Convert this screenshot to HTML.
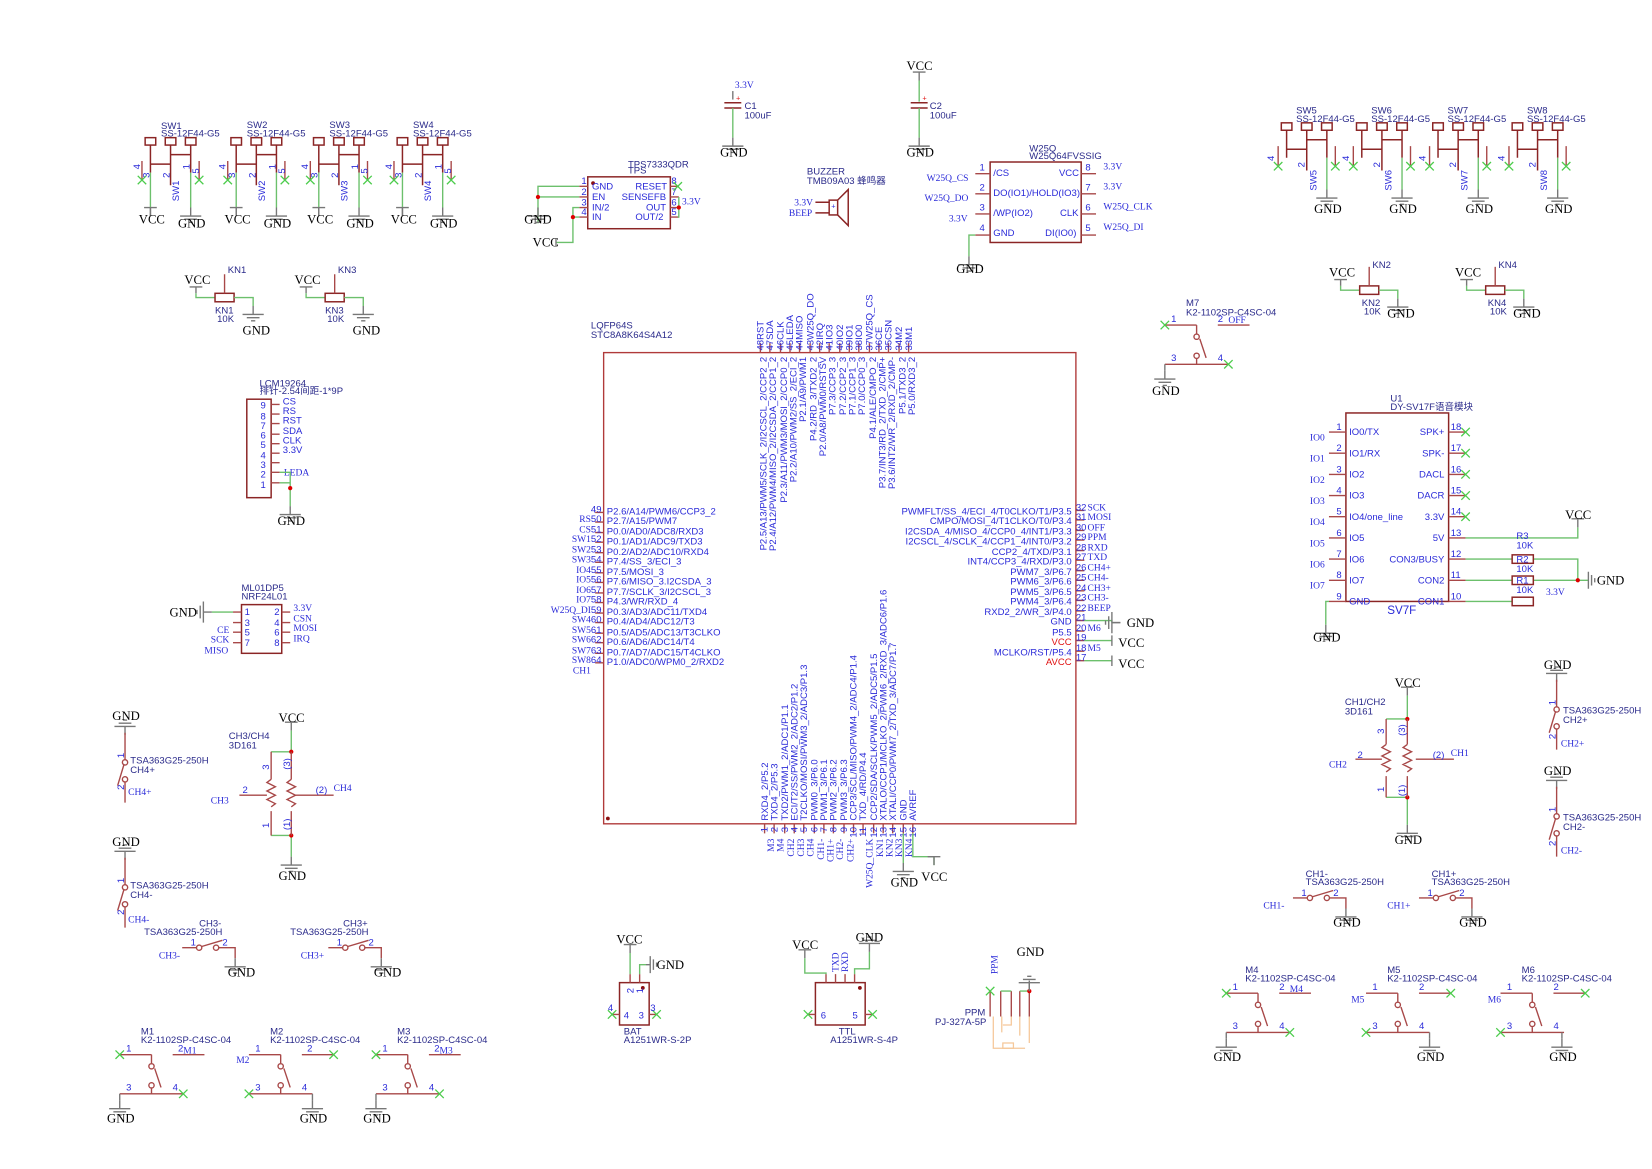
<!DOCTYPE html>
<html><head><meta charset="utf-8"><style>
html,body{margin:0;padding:0;background:#fff}
svg{display:block}
.r{stroke:#a84848;fill:none;stroke-width:1.3}
.k{stroke:#8b2525;fill:none;stroke-width:1.4}
.w{stroke:#6cc06c;fill:none;stroke-width:1.3}
.g{stroke:#777;fill:none;stroke-width:1.3}
.x{stroke:#4ccc4c;fill:none;stroke-width:1.2}
.o{stroke:#f5c89a;fill:none;stroke-width:1.2}
text{font-family:"Liberation Sans","Noto Sans CJK SC",sans-serif;font-size:9px;fill:#2a2ad8}
.t{fill:#2a2a8a}
.s{font-family:"Liberation Serif","Noto Serif CJK SC",serif;font-size:12px;fill:#000}
.q{font-family:"Liberation Serif",serif;font-size:9px;fill:#2a2ad8}
.red{fill:#e01010}
</style></head><body>
<svg width="1652" height="1169" viewBox="0 0 1560 1104" xmlns="http://www.w3.org/2000/svg">
<defs>
<g id="gnd"><path class="g" d="M0 0v8M-10 8h20M-6 11h12M-2 14h4"/></g>
<g id="gndu"><path class="g" d="M0 0v-8M-10 -8h20M-6 -11h12M-2 -14h4"/></g>
<g id="vcc"><path class="g" d="M0 0v-8M-6 -8h12"/></g>
<g id="xx"><path class="x" d="M-4 -4l8 8M-4 4l8 -8"/></g>
<g id="swt">
<rect class="k" x="0" y="0" width="10" height="7"/><rect class="k" x="19" y="0" width="10" height="7"/><rect class="k" x="38" y="0" width="10" height="7"/>
<path class="k" d="M5 7v26M24 7v38M43 7v26M5 25h19M24 16h19"/>
<path class="r" d="M-3 22v18M51 22v18"/>
</g>
<g id="msw">
<path class="r" d="M0 0h30M30 0v8M50 0h30M30 32v5M0 37h60"/>
<circle class="r" cx="30" cy="11" r="2.5"/><circle class="r" cx="30" cy="29" r="2.5"/>
<path class="r" d="M33 13l6 18"/>
</g>
<g id="tsa">
<path class="r" d="M0 0v26M0 46v20"/><circle class="r" cx="0" cy="28" r="2.5"/><circle class="r" cx="0" cy="44" r="2.5"/>
<path class="r" d="M-1 30l-6 20"/>
</g>
<g id="tsah">
<path class="r" d="M0 0h14M34 0h16v10"/><circle class="r" cx="16" cy="0" r="2.5"/><circle class="r" cx="32" cy="0" r="2.5"/>
<path class="r" d="M18 -1l20 -6"/>
</g>
</defs>

<!-- ===== SW1-SW4 ===== -->
<g transform="translate(137,130)">
<use href="#swt"/><text class="t" x="15" y="-8">SW1</text><text class="t" x="15" y="0" dy="-1">SS-12F44-G5</text>
</g>
<g transform="translate(218,130)"><use href="#swt"/><text class="t" x="15" y="-9">SW2</text><text class="t" x="15" y="-1">SS-12F44-G5</text></g>
<g transform="translate(296,130)"><use href="#swt"/><text class="t" x="15" y="-9">SW3</text><text class="t" x="15" y="-1">SS-12F44-G5</text></g>
<g transform="translate(375,130)"><use href="#swt"/><text class="t" x="15" y="-9">SW4</text><text class="t" x="15" y="-1">SS-12F44-G5</text></g>
<g>
<path class="w" d="M142 163v33M180 163v33"/><use href="#vcc" x="142" y="204"/><path class="g" d="M142 196v8"/>
<use href="#gnd" x="180" y="196"/><use href="#xx" x="134" y="170"/><use href="#xx" x="188" y="170"/>
<text class="s" x="131" y="211">VCC</text><text class="s" x="168" y="215">GND</text>
<text x="132" y="160" transform="rotate(-90 132 160)">4</text><text x="141" y="168" transform="rotate(-90 141 168)">3</text>
<text x="160" y="168" transform="rotate(-90 160 168)">2</text><text x="179" y="160" transform="rotate(-90 179 160)">1</text>
<text x="188" y="164" transform="rotate(-90 188 164)">5</text><text x="169" y="190" transform="rotate(-90 169 190)">SW1</text>
</g>
<g transform="translate(81,0)"><path class="w" d="M142 163v33M180 163v33"/><use href="#vcc" x="142" y="204"/><path class="g" d="M142 196v8"/><use href="#gnd" x="180" y="196"/><use href="#xx" x="134" y="170"/><use href="#xx" x="188" y="170"/><text class="s" x="131" y="211">VCC</text><text class="s" x="168" y="215">GND</text><text x="132" y="160" transform="rotate(-90 132 160)">4</text><text x="141" y="168" transform="rotate(-90 141 168)">3</text><text x="160" y="168" transform="rotate(-90 160 168)">2</text><text x="179" y="160" transform="rotate(-90 179 160)">1</text><text x="188" y="164" transform="rotate(-90 188 164)">5</text><text x="169" y="190" transform="rotate(-90 169 190)">SW2</text></g>
<g transform="translate(159,0)"><path class="w" d="M142 163v33M180 163v33"/><use href="#vcc" x="142" y="204"/><path class="g" d="M142 196v8"/><use href="#gnd" x="180" y="196"/><use href="#xx" x="134" y="170"/><use href="#xx" x="188" y="170"/><text class="s" x="131" y="211">VCC</text><text class="s" x="168" y="215">GND</text><text x="132" y="160" transform="rotate(-90 132 160)">4</text><text x="141" y="168" transform="rotate(-90 141 168)">3</text><text x="160" y="168" transform="rotate(-90 160 168)">2</text><text x="179" y="160" transform="rotate(-90 179 160)">1</text><text x="188" y="164" transform="rotate(-90 188 164)">5</text><text x="169" y="190" transform="rotate(-90 169 190)">SW3</text></g>
<g transform="translate(238,0)"><path class="w" d="M142 163v33M180 163v33"/><use href="#vcc" x="142" y="204"/><path class="g" d="M142 196v8"/><use href="#gnd" x="180" y="196"/><use href="#xx" x="134" y="170"/><use href="#xx" x="188" y="170"/><text class="s" x="131" y="211">VCC</text><text class="s" x="168" y="215">GND</text><text x="132" y="160" transform="rotate(-90 132 160)">4</text><text x="141" y="168" transform="rotate(-90 141 168)">3</text><text x="160" y="168" transform="rotate(-90 160 168)">2</text><text x="179" y="160" transform="rotate(-90 179 160)">1</text><text x="188" y="164" transform="rotate(-90 188 164)">5</text><text x="169" y="190" transform="rotate(-90 169 190)">SW4</text></g>

<!-- ===== SW5-SW8 ===== -->
<g transform="translate(1210,116)"><use href="#swt"/><text class="t" x="14" y="-9">SW5</text><text class="t" x="14" y="-1">SS-12F44-G5</text>
<path class="w" d="M43 33v30"/><use href="#gnd" x="43" y="63"/><use href="#xx" x="-3" y="41"/><use href="#xx" x="51" y="41"/><text class="s" x="31" y="85">GND</text><text x="-7" y="36" transform="rotate(-90 -7 36)">4</text><text x="33" y="64" transform="rotate(-90 33 64)">SW5</text><text x="22" y="42" transform="rotate(-90 22 42)">2</text></g>
<g transform="translate(1281,116)"><use href="#swt"/><text class="t" x="14" y="-9">SW6</text><text class="t" x="14" y="-1">SS-12F44-G5</text>
<path class="w" d="M43 33v30"/><use href="#gnd" x="43" y="63"/><use href="#xx" x="-3" y="41"/><use href="#xx" x="51" y="41"/><text class="s" x="31" y="85">GND</text><text x="-7" y="36" transform="rotate(-90 -7 36)">4</text><text x="33" y="64" transform="rotate(-90 33 64)">SW6</text><text x="22" y="42" transform="rotate(-90 22 42)">2</text></g>
<g transform="translate(1353,116)"><use href="#swt"/><text class="t" x="14" y="-9">SW7</text><text class="t" x="14" y="-1">SS-12F44-G5</text>
<path class="w" d="M43 33v30"/><use href="#gnd" x="43" y="63"/><use href="#xx" x="-3" y="41"/><use href="#xx" x="51" y="41"/><text class="s" x="31" y="85">GND</text><text x="-7" y="36" transform="rotate(-90 -7 36)">4</text><text x="33" y="64" transform="rotate(-90 33 64)">SW7</text><text x="22" y="42" transform="rotate(-90 22 42)">2</text></g>
<g transform="translate(1428,116)"><use href="#swt"/><text class="t" x="14" y="-9">SW8</text><text class="t" x="14" y="-1">SS-12F44-G5</text>
<path class="w" d="M43 33v30"/><use href="#gnd" x="43" y="63"/><use href="#xx" x="-3" y="41"/><use href="#xx" x="51" y="41"/><text class="s" x="31" y="85">GND</text><text x="-7" y="36" transform="rotate(-90 -7 36)">4</text><text x="33" y="64" transform="rotate(-90 33 64)">SW8</text><text x="22" y="42" transform="rotate(-90 22 42)">2</text></g>

<!-- ===== KN pots ===== -->
<g transform="translate(185,277)">
<path class="g" d="M0 0v-6M-6 -6h12"/><path class="w" d="M0 0v4h18"/><rect class="k" x="18" y="0" width="18" height="8"/><path class="w" d="M36 4h18v8"/><path class="r" d="M27 -18v18"/>
<use href="#gnd" x="54" y="12"/><text class="s" x="-11" y="-9">VCC</text><text class="s" x="44" y="39">GND</text>
<text class="t" x="30" y="-19">KN1</text><text class="t" x="18" y="19">KN1</text><text class="t" x="20" y="27">10K</text></g>
<g transform="translate(289,277)">
<path class="g" d="M0 0v-6M-6 -6h12"/><path class="w" d="M0 0v4h18"/><rect class="k" x="18" y="0" width="18" height="8"/><path class="w" d="M36 4h18v8"/><path class="r" d="M27 -18v18"/>
<use href="#gnd" x="54" y="12"/><text class="s" x="-11" y="-9">VCC</text><text class="s" x="44" y="39">GND</text>
<text class="t" x="30" y="-19">KN3</text><text class="t" x="18" y="19">KN3</text><text class="t" x="20" y="27">10K</text></g>
<g transform="translate(1266,270)">
<path class="g" d="M0 0v-6M-6 -6h12"/><path class="w" d="M0 0v4h18"/><rect class="k" x="18" y="0" width="18" height="8"/><path class="w" d="M36 4h18v8"/><path class="r" d="M27 -18v18"/>
<use href="#gnd" x="54" y="12"/><text class="s" x="-11" y="-9">VCC</text><text class="s" x="44" y="30">GND</text>
<text class="t" x="30" y="-17">KN2</text><text class="t" x="20" y="19">KN2</text><text class="t" x="22" y="27">10K</text></g>
<g transform="translate(1385,270)">
<path class="g" d="M0 0v-6M-6 -6h12"/><path class="w" d="M0 0v4h18"/><rect class="k" x="18" y="0" width="18" height="8"/><path class="w" d="M36 4h18v8"/><path class="r" d="M27 -18v18"/>
<use href="#gnd" x="54" y="12"/><text class="s" x="-11" y="-9">VCC</text><text class="s" x="44" y="30">GND</text>
<text class="t" x="30" y="-17">KN4</text><text class="t" x="20" y="19">KN4</text><text class="t" x="22" y="27">10K</text></g>

<!-- ===== C1, C2 ===== -->
<text class="q" x="694" y="83">3.3V</text>
<path class="g" d="M692 86v8"/><path class="k" d="M684 97h16M684 102h16"/><path class="w" d="M692 102v28"/><use href="#gnd" x="692" y="130"/><text class="red" x="695" y="95" style="font-size:7px">+</text>
<text class="t" x="703" y="103">C1</text><text class="t" x="703" y="112">100uF</text><text class="s" x="680" y="148">GND</text>
<text class="s" x="856" y="66">VCC</text><use href="#vcc" x="868" y="76"/><path class="w" d="M868 76v20"/><path class="k" d="M860 97h16M860 102h16"/><path class="w" d="M868 102v28"/><use href="#gnd" x="868" y="130"/><text class="red" x="871" y="95" style="font-size:7px">+</text>
<text class="t" x="878" y="103">C2</text><text class="t" x="878" y="112">100uF</text><text class="s" x="856" y="148">GND</text>

<!-- ===== TPS ===== -->
<rect class="k" x="555" y="167" width="78" height="49"/><circle cx="560" cy="173" r="1.8" fill="#8b1010"/>
<text class="t" x="593" y="158">TPS7333QDR</text><text class="t" x="593" y="164">TPS</text>
<path class="r" d="M547 176h8M547 186h8M547 196h8M547 205h8M633 176h8M633 186h8M633 196h8M633 205h8"/>
<text x="549" y="174">1</text><text x="549" y="184">2</text><text x="549" y="194">3</text><text x="549" y="203">4</text>
<text x="634" y="174">8</text><text x="634" y="184">7</text><text x="634" y="194">6</text><text x="634" y="203">5</text>
<text x="559" y="179">GND</text><text x="559" y="189">EN</text><text x="559" y="199">IN/2</text><text x="559" y="208">IN</text>
<text x="600" y="179">RESET</text><text x="587" y="189">SENSEFB</text><text x="610" y="199">OUT</text><text x="600" y="208">OUT/2</text>
<path class="w" d="M547 176h-39v35M547 186h-39M547 196h-6v9M547 205h-6v24h-16"/><use href="#gnd" x="508" y="196"/><circle cx="508" cy="186" r="2" fill="#d00"/><circle cx="541" cy="205" r="2" fill="#d00"/>
<text class="s" x="495" y="211">GND</text><text class="s" x="503" y="233">VCC</text><path class="g" d="M525 225v8"/>
<path class="w" d="M641 186v19h-1"/><circle cx="641" cy="196" r="2" fill="#d00"/><text class="q" x="644" y="193">3.3V</text><use href="#xx" x="640" y="176"/>

<!-- ===== Buzzer ===== -->
<text class="t" x="762" y="165">BUZZER</text><text class="t" x="762" y="174">TMB09A03 蜂鸣器</text>
<rect class="k" x="783" y="189" width="8" height="14"/><path class="k" d="M791 189l10 -10v34l-10 -10M770 191h13M770 201h13"/>
<text class="q" x="750" y="194">3.3V</text><text class="q" x="745" y="204">BEEP</text><text style="font-size:7px" x="785" y="197">+</text>

<!-- ===== W25Q ===== -->
<rect class="k" x="935" y="153" width="86" height="76"/>
<text class="t" x="972" y="143">W25Q</text><text class="t" x="972" y="150">W25Q64FVSSIG</text>
<path class="r" d="M921 164h14M921 183h14M921 202h14M921 222h14M1021 164h14M1021 183h14M1021 202h14M1021 222h14"/>
<text x="925" y="161">1</text><text x="925" y="180">2</text><text x="925" y="199">3</text><text x="925" y="218">4</text>
<text x="1025" y="161">8</text><text x="1025" y="180">7</text><text x="1025" y="199">6</text><text x="1025" y="218">5</text>
<text x="938" y="166">/CS</text><text x="938" y="185">DO(IO1)/HOLD(IO3)</text><text x="938" y="204">/WP(IO2)</text><text x="938" y="223">GND</text>
<text x="1000" y="166">VCC</text><text x="1001" y="204">CLK</text><text x="987" y="223">DI(IO0)</text>
<text class="q" x="875" y="171">W25Q_CS</text><text class="q" x="873" y="190">W25Q_DO</text><text class="q" x="896" y="209">3.3V</text>
<text class="q" x="1042" y="160">3.3V</text><text class="q" x="1042" y="179">3.3V</text><text class="q" x="1042" y="198">W25Q_CLK</text><text class="q" x="1042" y="217">W25Q_DI</text>
<path class="w" d="M921 222h-6v20"/><use href="#gnd" x="915" y="242"/><text class="s" x="903" y="258">GND</text>

<!-- ===== LCM ===== -->
<text class="t" x="245" y="365">LCM19264</text><text class="t" x="245" y="372">排针-2.54间距-1*9P</text>
<rect class="k" x="233" y="377" width="23" height="93"/>
<path class="r" d="M256 382h8M256 391h8M256 400h8M256 410h8M256 419h8M256 428h8M256 437h8M256 446h8M256 456h8"/>
<text x="246" y="386">9</text><text x="246" y="396">8</text><text x="246" y="405">7</text><text x="246" y="414">6</text><text x="246" y="423">5</text><text x="246" y="433">4</text><text x="246" y="442">3</text><text x="246" y="451">2</text><text x="246" y="461">1</text>
<text x="267" y="382">CS</text><text x="267" y="391">RS</text><text x="267" y="400">RST</text><text x="267" y="410">SDA</text><text x="267" y="419">CLK</text><text x="267" y="428">3.3V</text><text class="q" x="268" y="449">LEDA</text>
<path class="w" d="M264 446h10v32M264 456h10"/><circle cx="274" cy="461" r="2" fill="#d00"/><use href="#gnd" x="274" y="478"/><text class="s" x="262" y="496">GND</text>

<!-- ===== NRF ===== -->
<text class="t" x="228" y="558">ML01DP5</text><text class="t" x="228" y="566">NRF24L01</text>
<rect class="k" x="228" y="571" width="38" height="46"/>
<text x="231" y="581">1</text><text x="231" y="591">3</text><text x="231" y="600">5</text><text x="231" y="610">7</text>
<text x="259" y="581">2</text><text x="259" y="591">4</text><text x="259" y="600">6</text><text x="259" y="610">8</text>
<path class="r" d="M220 578h8M220 588h8M220 597h8M220 607h8M266 578h8M266 588h8M266 597h8M266 607h8"/>
<path class="w" d="M220 578h-20"/><use href="#gndu" x="200" y="578" transform="rotate(-90 200 578)"/>
<text class="s" x="160" y="582">GND</text>
<text class="q" x="205" y="598">CE</text><text class="q" x="199" y="607">SCK</text><text class="q" x="193" y="617">MISO</text>
<text class="q" x="277" y="577">3.3V</text><text class="q" x="277" y="587">CSN</text><text class="q" x="277" y="596">MOSI</text><text class="q" x="277" y="606">IRQ</text>

<!-- ===== MCU ===== -->
<text class="t" x="558" y="310">LQFP64S</text><text class="t" x="558" y="319">STC8A8K64S4A12</text>
<rect x="570" y="333" width="446" height="445" style="fill:none;stroke:#b03a3a;stroke-width:1.3"/>
<circle cx="574" cy="773" r="1.8" fill="#8b1010"/>
<g>
<path class="r" d="M562 484h8M562 493h8M562 503h8M562 512h8M562 522h8M562 531h8M562 541h8M562 550h8M562 560h8M562 569h8M562 579h8M562 588h8M562 598h8M562 607h8M562 617h8M562 626h8"/>
<text x="573" y="486">P2.6/A14/PWM6/CCP3_2</text><text x="573" y="495">P2.7/A15/PWM7</text><text x="573" y="505">P0.0/AD0/ADC8/RXD3</text><text x="573" y="514">P0.1/AD1/ADC9/TXD3</text><text x="573" y="524">P0.2/AD2/ADC10/RXD4</text><text x="573" y="533">P7.4/SS_3/ECI_3</text><text x="573" y="543">P7.5/MOSI_3</text><text x="573" y="552">P7.6/MISO_3.I2CSDA_3</text><text x="573" y="562">P7.7/SCLK_3/I2CSCL_3</text><text x="573" y="571">P4.3/WR/RXD_4</text><text x="573" y="581">P0.3/AD3/ADC11/TXD4</text><text x="573" y="590">P0.4/AD4/ADC12/T3</text><text x="573" y="600">P0.5/AD5/ADC13/T3CLKO</text><text x="573" y="609">P0.6/AD6/ADC14/T4</text><text x="573" y="619">P0.7/AD7/ADC15/T4CLKO</text><text x="573" y="628">P1.0/ADC0/WPM0_2/RXD2</text>
<g text-anchor="end"><text x="568" y="484">49</text><text x="568" y="493">50</text><text x="568" y="503">51</text><text x="568" y="512">52</text><text x="568" y="522">53</text><text x="568" y="531">54</text><text x="568" y="541">55</text><text x="568" y="550">56</text><text x="568" y="560">57</text><text x="568" y="569">58</text><text x="568" y="579">59</text><text x="568" y="588">60</text><text x="568" y="598">61</text><text x="568" y="607">62</text><text x="568" y="617">63</text><text x="568" y="626">64</text>
<text class="q" x="558" y="493">RS</text><text class="q" x="558" y="503">CS</text><text class="q" x="558" y="512">SW1</text><text class="q" x="558" y="522">SW2</text><text class="q" x="558" y="531">SW3</text><text class="q" x="558" y="541">IO4</text><text class="q" x="558" y="550">IO5</text><text class="q" x="558" y="560">IO6</text><text class="q" x="558" y="569">IO7</text><text class="q" x="558" y="579">W25Q_DI</text><text class="q" x="558" y="588">SW4</text><text class="q" x="558" y="598">SW5</text><text class="q" x="558" y="607">SW6</text><text class="q" x="558" y="617">SW7</text><text class="q" x="558" y="626">SW8</text><text class="q" x="558" y="636">CH1</text></g>
</g>
<path class="r" d="M1016 482h8M1016 491h8M1016 501h8M1016 510h8M1016 520h8M1016 529h8M1016 539h8M1016 548h8M1016 558h8M1016 567h8M1016 577h8M1016 586h8M1016 596h8M1016 605h8M1016 615h8M1016 624h8"/>
<g text-anchor="end">
<text x="1012" y="486">PWMFLT/SS_4/ECI_4/T0CLKO/T1/P3.5</text><text x="1012" y="495">CMPO/MOSI_4/T1CLKO/T0/P3.4</text><text x="1012" y="505">I2CSDA_4/MISO_4/CCP0_4/INT1/P3.3</text><text x="1012" y="514">I2CSCL_4/SCLK_4/CCP1_4/INT0/P3.2</text><text x="1012" y="524">CCP2_4/TXD/P3.1</text><text x="1012" y="533">INT4/CCP3_4/RXD/P3.0</text><text x="1012" y="543">PWM7_3/P6.7</text><text x="1012" y="552">PWM6_3/P6.6</text><text x="1012" y="562">PWM5_3/P6.5</text><text x="1012" y="571">PWM4_3/P6.4</text><text x="1012" y="581">RXD2_2/WR_3/P4.0</text><text x="1012" y="590">GND</text><text x="1012" y="600">P5.5</text><text class="red" x="1012" y="609">VCC</text><text x="1012" y="619">MCLKO/RST/P5.4</text><text class="red" x="1012" y="628">AVCC</text>
</g>
<text x="1016" y="482">32</text><text x="1016" y="491">31</text><text x="1016" y="501">30</text><text x="1016" y="510">29</text><text x="1016" y="520">28</text><text x="1016" y="529">27</text><text x="1016" y="539">26</text><text x="1016" y="548">25</text><text x="1016" y="558">24</text><text x="1016" y="567">23</text><text x="1016" y="577">22</text><text x="1016" y="586">21</text><text x="1016" y="596">20</text><text x="1016" y="605">19</text><text x="1016" y="615">18</text><text x="1016" y="624">17</text>
<text class="q" x="1027" y="482">SCK</text><text class="q" x="1027" y="491">MOSI</text><text class="q" x="1027" y="501">OFF</text><text class="q" x="1027" y="510">PPM</text><text class="q" x="1027" y="520">RXD</text><text class="q" x="1027" y="529">TXD</text><text class="q" x="1027" y="539">CH4+</text><text class="q" x="1027" y="548">CH4-</text><text class="q" x="1027" y="558">CH3+</text><text class="q" x="1027" y="567">CH3-</text><text class="q" x="1027" y="577">BEEP</text><text class="q" x="1027" y="596">M6</text><text class="q" x="1027" y="615">M5</text>
<path class="w" d="M1024 586h26v2M1024 605h26M1024 624h26"/>
<use href="#gndu" x="1058" y="588" transform="rotate(-90 1058 588)"/><path class="g" d="M1050 588h8"/>
<text class="s" x="1064" y="592">GND</text><path class="g" d="M1050 600v10M1050 619v10"/><text class="s" x="1056" y="611">VCC</text><text class="s" x="1056" y="631">VCC</text>
<path class="r" d="M718 324v9M727 324v9M737 324v9M746 324v9M755 324v9M765 324v9M774 324v9M783 324v9M793 324v9M802 324v9M811 324v9M821 324v9M830 324v9M839 324v9M849 324v9M858 324v9"/>
<g text-anchor="start">
<text x="721" y="331" transform="rotate(-90 721 331)">48RST</text><text x="730" y="331" transform="rotate(-90 730 331)">47SDA</text><text x="740" y="331" transform="rotate(-90 740 331)">46CLK</text><text x="749" y="331" transform="rotate(-90 749 331)">45LEDA</text><text x="758" y="331" transform="rotate(-90 758 331)">44MISO</text><text x="768" y="331" transform="rotate(-90 768 331)">43W25Q_DO</text><text x="777" y="331" transform="rotate(-90 777 331)">42IRQ</text><text x="786" y="331" transform="rotate(-90 786 331)">41IO3</text><text x="796" y="331" transform="rotate(-90 796 331)">40IO2</text><text x="805" y="331" transform="rotate(-90 805 331)">39IO1</text><text x="814" y="331" transform="rotate(-90 814 331)">38IO0</text><text x="824" y="331" transform="rotate(-90 824 331)">37W25Q_CS</text><text x="833" y="331" transform="rotate(-90 833 331)">36CE</text><text x="842" y="331" transform="rotate(-90 842 331)">35CSN</text><text x="852" y="331" transform="rotate(-90 852 331)">34M2</text><text x="861" y="331" transform="rotate(-90 861 331)">33M1</text>
</g>
<g text-anchor="end">
<text x="724" y="337" transform="rotate(-90 724 337)">P2.5/A13/PWM5/SCLK_2/I2CSCL_2/CCP2_2</text><text x="733" y="337" transform="rotate(-90 733 337)">P2.4/A12/PWM4/MISO_2/I2CSDA_2/CCP1_2</text><text x="743" y="337" transform="rotate(-90 743 337)">P2.3/A11/PWM3/MOSI_2/CCP0_2</text><text x="752" y="337" transform="rotate(-90 752 337)">P2.2/A10/PWM2/SS_2/ECI_2</text><text x="761" y="337" transform="rotate(-90 761 337)">P2.1/A9/PWM1</text><text x="771" y="337" transform="rotate(-90 771 337)">P4.2/RD_3/TXD2_2</text><text x="780" y="337" transform="rotate(-90 780 337)">P2.0/A8/PWM0/RSTSV</text><text x="789" y="337" transform="rotate(-90 789 337)">P7.3/CCP3_3</text><text x="799" y="337" transform="rotate(-90 799 337)">P7.2/CCP2_3</text><text x="808" y="337" transform="rotate(-90 808 337)">P7.1/CCP1_3</text><text x="817" y="337" transform="rotate(-90 817 337)">P7.0/CCP0_3</text><text x="827" y="337" transform="rotate(-90 827 337)">P4.1/ALE/CMPO_2</text><text x="836" y="337" transform="rotate(-90 836 337)">P3.7/INT3/RD_2/TXD_2/CMP+</text><text x="845" y="337" transform="rotate(-90 845 337)">P3.6/INT2/WR_2/RXD_2/CMP-</text><text x="855" y="337" transform="rotate(-90 855 337)">P5.1/TXD3_2</text><text x="864" y="337" transform="rotate(-90 864 337)">P5.0/RXD3_2</text>
</g>
<path class="r" d="M722 778v9M731 778v9M741 778v9M750 778v9M759 778v9M769 778v9M778 778v9M787 778v9M797 778v9M806 778v9M815 778v9M825 778v9M834 778v9M843 778v9M853 778v9M862 778v9"/>
<g text-anchor="start">
<text x="725" y="775" transform="rotate(-90 725 775)">RXD4_2/P5.2</text><text x="734" y="775" transform="rotate(-90 734 775)">TXD4_2/P5.3</text><text x="744" y="775" transform="rotate(-90 744 775)">TXD2/PWM1_2/ADC1/P1.1</text><text x="753" y="775" transform="rotate(-90 753 775)">ECI/T2/SS/PWM2_2/ADC2/P1.2</text><text x="762" y="775" transform="rotate(-90 762 775)">T2CLKO/MOSI/PWM3_2/ADC3/P1.3</text><text x="772" y="775" transform="rotate(-90 772 775)">PWM0_3/P6.0</text><text x="781" y="775" transform="rotate(-90 781 775)">PWM1_3/P6.1</text><text x="790" y="775" transform="rotate(-90 790 775)">PWM2_3/P6.2</text><text x="800" y="775" transform="rotate(-90 800 775)">PWM3_3/P6.3</text><text x="809" y="775" transform="rotate(-90 809 775)">CCP3/SCL/MISO/PWM4_2/ADC4/P1.4</text><text x="818" y="775" transform="rotate(-90 818 775)">TXD_4/RD/P4.4</text><text x="828" y="775" transform="rotate(-90 828 775)">CCP2/SDA/SCLK/PWM5_2/ADC5/P1.5</text><text x="837" y="775" transform="rotate(-90 837 775)">XTALO/CCP1/MCLKO_2/PWM6_2/RXD_3/ADC6/P1.6</text><text x="846" y="775" transform="rotate(-90 846 775)">XTALI/CCP0/PWM7_2/TXD_3/ADC7/P1.7</text><text x="856" y="775" transform="rotate(-90 856 775)">GND</text><text x="865" y="775" transform="rotate(-90 865 775)">AVREF</text>
</g>
<g text-anchor="end">
<text x="725" y="781" transform="rotate(-90 725 781)">1</text><text x="734" y="781" transform="rotate(-90 734 781)">2</text><text x="744" y="781" transform="rotate(-90 744 781)">3</text><text x="753" y="781" transform="rotate(-90 753 781)">4</text><text x="762" y="781" transform="rotate(-90 762 781)">5</text><text x="772" y="781" transform="rotate(-90 772 781)">6</text><text x="781" y="781" transform="rotate(-90 781 781)">7</text><text x="790" y="781" transform="rotate(-90 790 781)">8</text><text x="800" y="781" transform="rotate(-90 800 781)">9</text><text x="809" y="781" transform="rotate(-90 809 781)">10</text><text x="818" y="781" transform="rotate(-90 818 781)">11</text><text x="828" y="781" transform="rotate(-90 828 781)">12</text><text x="837" y="781" transform="rotate(-90 837 781)">13</text><text x="846" y="781" transform="rotate(-90 846 781)">14</text><text x="856" y="781" transform="rotate(-90 856 781)">15</text><text x="865" y="781" transform="rotate(-90 865 781)">16</text>
<text class="q" x="731" y="792" transform="rotate(-90 731 792)">M3</text><text class="q" x="740" y="792" transform="rotate(-90 740 792)">M4</text><text class="q" x="750" y="792" transform="rotate(-90 750 792)">CH2</text><text class="q" x="759" y="792" transform="rotate(-90 759 792)">CH3</text><text class="q" x="768" y="792" transform="rotate(-90 768 792)">CH4</text><text class="q" x="778" y="792" transform="rotate(-90 778 792)">CH1-</text><text class="q" x="787" y="792" transform="rotate(-90 787 792)">CH1+</text><text class="q" x="796" y="792" transform="rotate(-90 796 792)">CH2-</text><text class="q" x="806" y="792" transform="rotate(-90 806 792)">CH2+</text><text class="q" x="824" y="792" transform="rotate(-90 824 792)">W25Q_CLK</text><text class="q" x="834" y="792" transform="rotate(-90 834 792)">KN1</text><text class="q" x="843" y="792" transform="rotate(-90 843 792)">KN2</text><text class="q" x="852" y="792" transform="rotate(-90 852 792)">KN3</text><text class="q" x="861" y="792" transform="rotate(-90 861 792)">KN4</text>
</g>
<path class="w" d="M853 787v28M862 787v22h20v8"/><use href="#gnd" x="853" y="815"/><text class="s" x="841" y="837">GND</text><use href="#vcc" x="882" y="817"/><text class="s" x="870" y="832">VCC</text>

<!-- ===== M7 ===== -->
<text class="t" x="1120" y="289">M7</text><text class="t" x="1120" y="298">K2-1102SP-C4SC-04</text>
<g transform="translate(1100,307)"><use href="#msw"/><use href="#xx" x="0" y="0"/><use href="#xx" x="60" y="37"/><text x="6" y="-3">1</text><text x="50" y="-3">2</text><text x="6" y="34">3</text><text x="50" y="34">4</text><text class="q" x="60" y="-2">OFF</text><path class="g" d="M0 37v6"/><use href="#gnd" x="0" y="43"/><text class="s" x="-12" y="66">GND</text></g>

<!-- ===== U1 ===== -->
<text class="t" x="1313" y="379">U1</text><text class="t" x="1313" y="387">DY-SV17F语音模块</text>
<rect class="k" x="1271" y="390" width="97" height="178"/>
<path class="r" d="M1255 408h16M1255 428h16M1255 448h16M1255 468h16M1255 488h16M1255 508h16M1255 528h16M1255 548h16M1255 568h16M1368 408h16M1368 428h16M1368 448h16M1368 468h16M1368 488h16M1368 508h16M1368 528h16M1368 548h16M1368 568h16"/>
<text x="1262" y="406">1</text><text x="1262" y="426">2</text><text x="1262" y="446">3</text><text x="1262" y="466">4</text><text x="1262" y="486">5</text><text x="1262" y="506">6</text><text x="1262" y="526">7</text><text x="1262" y="546">8</text><text x="1262" y="566">9</text>
<text x="1274" y="411">IO0/TX</text><text x="1274" y="431">IO1/RX</text><text x="1274" y="451">IO2</text><text x="1274" y="471">IO3</text><text x="1274" y="491">IO4/one_line</text><text x="1274" y="511">IO5</text><text x="1274" y="531">IO6</text><text x="1274" y="551">IO7</text><text x="1274" y="571">GND</text>
<g text-anchor="end"><text x="1364" y="411">SPK+</text><text x="1364" y="431">SPK-</text><text x="1364" y="451">DACL</text><text x="1364" y="471">DACR</text><text x="1364" y="491">3.3V</text><text x="1364" y="511">5V</text><text x="1364" y="531">CON3/BUSY</text><text x="1364" y="551">CON2</text><text x="1364" y="571">CON1</text></g>
<text x="1370" y="406">18</text><text x="1370" y="426">17</text><text x="1370" y="446">16</text><text x="1370" y="466">15</text><text x="1370" y="486">14</text><text x="1370" y="506">13</text><text x="1370" y="526">12</text><text x="1370" y="546">11</text><text x="1370" y="566">10</text>
<use href="#xx" x="1384" y="408"/><use href="#xx" x="1384" y="428"/><use href="#xx" x="1384" y="448"/><use href="#xx" x="1384" y="468"/><use href="#xx" x="1384" y="488"/>
<text class="q" x="1237" y="416">IO0</text><text class="q" x="1237" y="436">IO1</text><text class="q" x="1237" y="456">IO2</text><text class="q" x="1237" y="476">IO3</text><text class="q" x="1237" y="496">IO4</text><text class="q" x="1237" y="516">IO5</text><text class="q" x="1237" y="536">IO6</text><text class="q" x="1237" y="556">IO7</text>
<path class="w" d="M1384 508h106v-10M1384 528h44M1448 528h42v20M1384 548h44M1448 548h52M1384 568h44"/>
<rect class="k" x="1428" y="524" width="20" height="8"/><rect class="k" x="1428" y="544" width="20" height="8"/><rect class="k" x="1428" y="564" width="20" height="8"/>
<text x="1432" y="509">R3</text><text x="1432" y="518">10K</text><text x="1432" y="531">R2</text><text x="1432" y="540">10K</text><text x="1432" y="551">R1</text><text x="1432" y="560">10K</text>
<text class="q" x="1460" y="562">3.3V</text>
<circle cx="1490" cy="548" r="2" fill="#d00"/><path class="g" d="M1484 490h12M1490 490v8"/><text class="s" x="1478" y="490">VCC</text>
<path class="g" d="M1500 540v16M1503 543v10M1506 546v4"/><text class="s" x="1508" y="552">GND</text>
<text x="1310" y="580" style="font-size:11px">SV7F</text>
<path class="w" d="M1255 568h-3v22"/><use href="#gnd" x="1252" y="590"/><text class="s" x="1240" y="606">GND</text>

<!-- ===== CH1/CH2 pot (right) ===== -->
<text class="t" x="1270" y="666">CH1/CH2</text><text class="t" x="1270" y="675">3D161</text>
<path class="g" d="M1329 649v8M1323 649h12"/><text class="s" x="1317" y="649">VCC</text>
<path class="w" d="M1329 657v22M1309 679h20M1309 753h20M1329 753v26"/>
<circle cx="1329" cy="679" r="2" fill="#d00"/><circle cx="1329" cy="753" r="2" fill="#d00"/>
<path class="r" d="M1309 679v24M1329 679v24M1309 733v20M1329 733v20"/>
<path class="r" d="M1309 703l-4 3l8 4l-8 4l8 4l-8 4l8 4l-4 3M1329 703l-4 3l8 4l-8 4l8 4l-8 4l8 4l-4 3"/>
<path class="r" d="M1280 717h25M1337 717h36"/>
<text x="1282" y="716">2</text><text x="1353" y="716">(2)</text><text class="q" x="1370" y="714">CH1</text><text class="q" x="1255" y="725">CH2</text>
<text x="1307" y="693" transform="rotate(-90 1307 693)">3</text><text x="1327" y="695" transform="rotate(-90 1327 695)">(3)</text><text x="1307" y="748" transform="rotate(-90 1307 748)">1</text><text x="1327" y="752" transform="rotate(-90 1327 752)">(1)</text>
<use href="#gnd" x="1329" y="779"/><text class="s" x="1317" y="797">GND</text>

<!-- ===== CH3/CH4 pot (left) ===== -->
<text class="t" x="216" y="698">CH3/CH4</text><text class="t" x="216" y="707">3D161</text>
<path class="g" d="M275 682v8M269 682h12"/><text class="s" x="263" y="682">VCC</text>
<path class="w" d="M275 690v20M256 710h19M256 789h19M275 789v20"/>
<circle cx="275" cy="710" r="2" fill="#d00"/><circle cx="275" cy="789" r="2" fill="#d00"/>
<path class="r" d="M256 710v26M275 710v26M256 766v23M275 766v23"/>
<path class="r" d="M256 736l-4 3l8 4l-8 4l8 4l-8 4l8 4l-4 3M275 736l-4 3l8 4l-8 4l8 4l-8 4l8 4l-4 3"/>
<path class="r" d="M226 751h26M279 751h36"/>
<text x="229" y="749">2</text><text x="298" y="749">(2)</text><text class="q" x="315" y="747">CH4</text><text class="q" x="199" y="759">CH3</text>
<text x="254" y="727" transform="rotate(-90 254 727)">3</text><text x="274" y="727" transform="rotate(-90 274 727)">(3)</text><text x="254" y="782" transform="rotate(-90 254 782)">1</text><text x="274" y="784" transform="rotate(-90 274 784)">(1)</text>
<use href="#gnd" x="275" y="809"/><text class="s" x="263" y="831">GND</text>

<!-- ===== TSA vertical left ===== -->
<use href="#gndu" x="118" y="694"/><text class="s" x="106" y="680">GND</text><use href="#tsa" x="118" y="692"/>
<text class="t" x="123" y="721">TSA363G25-250H</text><text class="t" x="123" y="730">CH4+</text><text class="q" x="121" y="751">CH4+</text>
<text x="117" y="716" transform="rotate(-90 117 716)">1</text><text x="117" y="746" transform="rotate(-90 117 746)">2</text>
<use href="#gndu" x="118" y="812"/><text class="s" x="106" y="799">GND</text><use href="#tsa" x="118" y="810"/>
<text class="t" x="123" y="839">TSA363G25-250H</text><text class="t" x="123" y="848">CH4-</text><text class="q" x="121" y="871">CH4-</text>
<text x="117" y="834" transform="rotate(-90 117 834)">1</text><text x="117" y="864" transform="rotate(-90 117 864)">2</text>

<!-- ===== TSA vertical right ===== -->
<use href="#gndu" x="1470" y="644"/><text class="s" x="1458" y="632">GND</text><use href="#tsa" x="1470" y="642"/>
<text class="t" x="1476" y="674">TSA363G25-250H</text><text class="t" x="1476" y="683">CH2+</text><text class="q" x="1474" y="705">CH2+</text>
<text x="1469" y="666" transform="rotate(-90 1469 666)">1</text><text x="1469" y="698" transform="rotate(-90 1469 698)">2</text>
<use href="#gndu" x="1470" y="745"/><text class="s" x="1458" y="732">GND</text><use href="#tsa" x="1470" y="743"/>
<text class="t" x="1476" y="775">TSA363G25-250H</text><text class="t" x="1476" y="784">CH2-</text><text class="q" x="1474" y="806">CH2-</text>
<text x="1469" y="767" transform="rotate(-90 1469 767)">1</text><text x="1469" y="799" transform="rotate(-90 1469 799)">2</text>

<!-- ===== TSA horizontal ===== -->
<g transform="translate(172,895)"><use href="#tsah"/><use href="#gnd" x="50" y="10"/><text x="8" y="-2">1</text><text x="38" y="-2">2</text><text class="q" x="-22" y="10">CH3-</text><text class="t" x="16" y="-20">CH3-</text><text class="t" x="-36" y="-12">TSA363G25-250H</text><text class="s" x="43" y="27">GND</text></g>
<g transform="translate(310,895)"><use href="#tsah"/><use href="#gnd" x="50" y="10"/><text x="8" y="-2">1</text><text x="38" y="-2">2</text><text class="q" x="-26" y="10">CH3+</text><text class="t" x="14" y="-20">CH3+</text><text class="t" x="-36" y="-12">TSA363G25-250H</text><text class="s" x="43" y="27">GND</text></g>
<g transform="translate(1221,848)"><use href="#tsah"/><use href="#gnd" x="50" y="10"/><text x="8" y="-2">1</text><text x="38" y="-2">2</text><text class="q" x="-28" y="10">CH1-</text><text class="t" x="12" y="-20">CH1-</text><text class="t" x="12" y="-12">TSA363G25-250H</text><text class="s" x="38" y="27">GND</text></g>
<g transform="translate(1340,848)"><use href="#tsah"/><use href="#gnd" x="50" y="10"/><text x="8" y="-2">1</text><text x="38" y="-2">2</text><text class="q" x="-30" y="10">CH1+</text><text class="t" x="12" y="-20">CH1+</text><text class="t" x="12" y="-12">TSA363G25-250H</text><text class="s" x="38" y="27">GND</text></g>

<!-- ===== M1-M6 ===== -->
<g transform="translate(113,996)"><use href="#msw"/><use href="#xx"/><use href="#xx" x="60" y="37"/><text x="6" y="-3">1</text><text x="55" y="-3">2</text><text x="6" y="34">3</text><text x="50" y="34">4</text><text class="t" x="20" y="-19">M1</text><text class="t" x="20" y="-11">K2-1102SP-C4SC-04</text><text class="q" x="60" y="-1">M1</text><path class="g" d="M0 37v6"/><use href="#gnd" x="0" y="43"/><text class="s" x="-12" y="64">GND</text></g>
<g transform="translate(235,996)"><use href="#msw"/><use href="#xx" x="80" y="0"/><use href="#xx" x="0" y="37"/><text x="6" y="-3">1</text><text x="55" y="-3">2</text><text x="6" y="34">3</text><text x="50" y="34">4</text><text class="t" x="20" y="-19">M2</text><text class="t" x="20" y="-11">K2-1102SP-C4SC-04</text><text class="q" x="-12" y="8">M2</text><path class="g" d="M60 37v6"/><use href="#gnd" x="60" y="43"/><text class="s" x="48" y="64">GND</text></g>
<g transform="translate(355,996)"><use href="#msw"/><use href="#xx" x="0" y="0"/><use href="#xx" x="60" y="37"/><text x="6" y="-3">1</text><text x="55" y="-3">2</text><text x="6" y="34">3</text><text x="50" y="34">4</text><text class="t" x="20" y="-19">M3</text><text class="t" x="20" y="-11">K2-1102SP-C4SC-04</text><text class="q" x="60" y="-1">M3</text><path class="g" d="M0 37v6"/><use href="#gnd" x="0" y="43"/><text class="s" x="-12" y="64">GND</text></g>
<g transform="translate(1158,938)"><use href="#msw"/><use href="#xx"/><use href="#xx" x="60" y="37"/><text x="6" y="-3">1</text><text x="50" y="-3">2</text><text x="6" y="34">3</text><text x="50" y="34">4</text><text class="t" x="18" y="-19">M4</text><text class="t" x="18" y="-11">K2-1102SP-C4SC-04</text><text class="q" x="60" y="-1">M4</text><path class="g" d="M0 37v6"/><use href="#gnd" x="0" y="43"/><text class="s" x="-12" y="64">GND</text></g>
<g transform="translate(1290,938)"><use href="#msw"/><use href="#xx" x="80" y="0"/><use href="#xx" x="0" y="37"/><text x="6" y="-3">1</text><text x="50" y="-3">2</text><text x="6" y="34">3</text><text x="50" y="34">4</text><text class="t" x="20" y="-19">M5</text><text class="t" x="20" y="-11">K2-1102SP-C4SC-04</text><text class="q" x="-14" y="9">M5</text><path class="g" d="M60 37v6"/><use href="#gnd" x="60" y="43"/><text class="s" x="48" y="64">GND</text></g>
<g transform="translate(1417,938)"><use href="#msw"/><use href="#xx" x="80" y="0"/><use href="#xx" x="0" y="37"/><text x="6" y="-3">1</text><text x="50" y="-3">2</text><text x="6" y="34">3</text><text x="50" y="34">4</text><text class="t" x="20" y="-19">M6</text><text class="t" x="20" y="-11">K2-1102SP-C4SC-04</text><text class="q" x="-12" y="9">M6</text><path class="g" d="M58 37v6"/><use href="#gnd" x="58" y="43"/><text class="s" x="46" y="64">GND</text></g>

<!-- ===== BAT ===== -->
<rect class="k" x="585" y="928" width="28" height="40"/><circle cx="607" cy="933" r="1.8" fill="#8b1010"/>
<path class="r" d="M595 920v8M604 920v8M578 958h7M613 958h7"/>
<path class="g" d="M595 892v8M589 892h12"/><text class="s" x="582" y="891">VCC</text>
<path class="w" d="M595 900v20M604 920v-9h6"/><path class="g" d="M610 911h4M614 903v16M617 906v10M620 909v4"/><text class="s" x="620" y="915">GND</text>
<use href="#xx" x="578" y="958"/><use href="#xx" x="620" y="958"/>
<text x="589" y="962">4</text><text x="603" y="962">3</text><text x="574" y="955">4</text><text x="614" y="955">3</text>
<text x="598" y="938" transform="rotate(-90 598 938)">2</text><text x="607" y="938" transform="rotate(-90 607 938)">1</text>
<text class="t" x="589" y="977">BAT</text><text class="t" x="589" y="985">A1251WR-S-2P</text>

<!-- ===== TTL ===== -->
<rect class="k" x="770" y="928" width="47" height="40"/><circle cx="812" cy="933" r="1.8" fill="#8b1010"/>
<path class="r" d="M780 920v8M789 920v8M798 920v8M807 920v8M763 958h7M817 958h7"/>
<path class="g" d="M760 897v8M754 897h12"/><text class="s" x="748" y="896">VCC</text>
<path class="w" d="M760 905v14h20v1M807 920v-5h14v-16"/><use href="#gndu" x="821" y="899"/><text class="s" x="808" y="889">GND</text>
<text class="q" x="792" y="918" transform="rotate(-90 792 918)">TXD</text><text class="q" x="801" y="918" transform="rotate(-90 801 918)">RXD</text>
<use href="#xx" x="763" y="958"/><use href="#xx" x="824" y="958"/>
<text x="775" y="962">6</text><text x="805" y="962">5</text>
<text class="t" x="792" y="977">TTL</text><text class="t" x="784" y="985">A1251WR-S-4P</text>

<!-- ===== PJ-327 ===== -->
<path class="r" d="M935 936v24M945 936v24M955 936v24M963 936v24M972 936v24"/>
<path class="w" d="M945 936h10M963 936h9"/><circle cx="972" cy="936" r="2" fill="#d00"/><use href="#gndu" x="972" y="936"/><path class="g" d="M972 926v10"/><text class="s" x="960" y="903">GND</text>
<use href="#xx" x="935" y="936"/><text class="q" x="942" y="920" transform="rotate(-90 942 920)">PPM</text>
<path class="o" d="M938 960v30h30M946 960v15M955 960v8h-8M963 960v18M972 960v25"/><rect class="o" x="947" y="985" width="10" height="5"/>
<text class="t" x="911" y="959">PPM</text><text class="t" x="883" y="968">PJ-327A-5P</text>
</svg>
</body></html>
